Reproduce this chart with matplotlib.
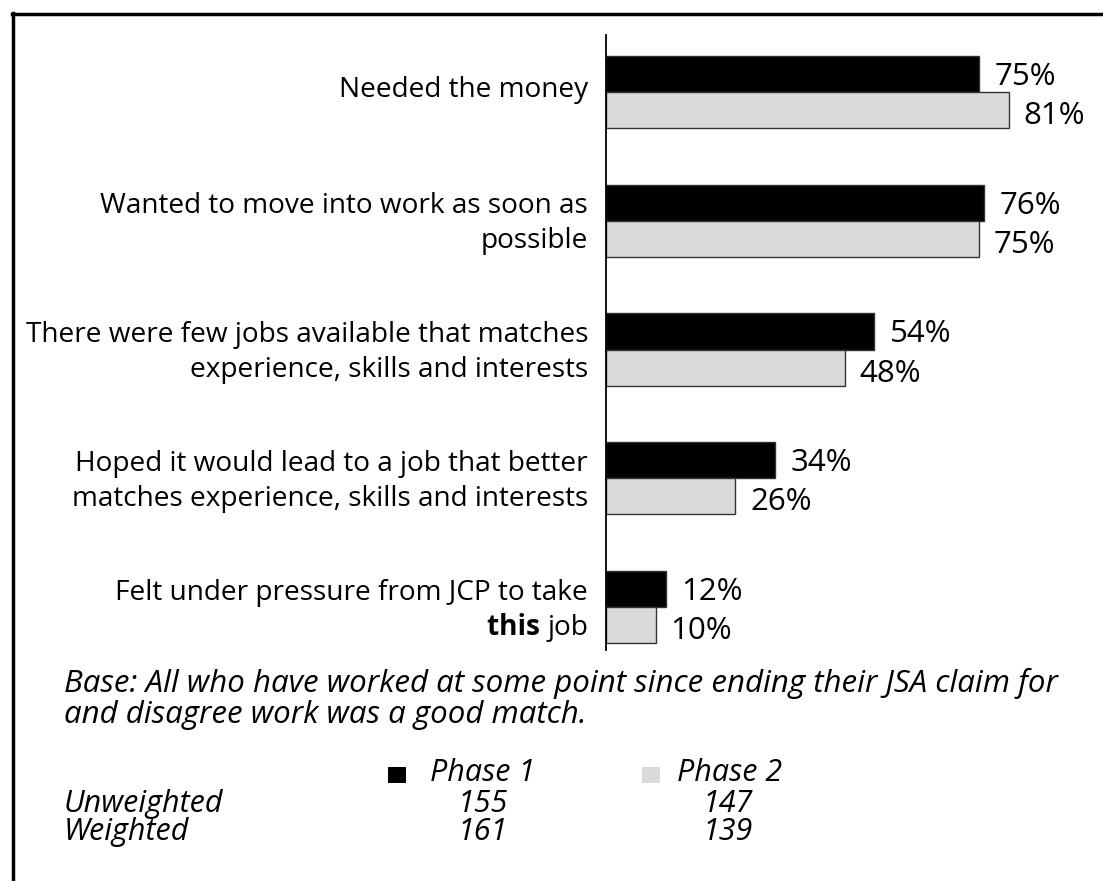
import numpy as np
import matplotlib.pyplot as plt
from matplotlib.patches import Rectangle
from matplotlib.lines import Line2D

plt.rcParams['font.family'] = ['Open Sans', 'DejaVu Sans']

# Data
labels = [
    ["Needed the money"],
    ["Wanted to move into work as soon as", "possible"],
    ["There were few jobs available that matches", "experience, skills and interests"],
    ["Hoped it would lead to a job that better", "matches experience, skills and interests"],
    ["Felt under pressure from JCP to take", "job"],
]
phase1 = [75, 76, 54, 34, 12]
phase2 = [81, 75, 48, 26, 10]
series_names = ["Phase 1", "Phase 2"]
unweighted = [155, 147]
weighted = [161, 139]

black = "#000000"
grey = "#d9dadb"
fs_lab = 20.2
fs_val = 22.5
fs_note = 22.5
fs_leg = 22
PX = 0.72  # points per pixel at dpi 100

W, H = 1103, 881
fig = plt.figure(figsize=(W / 100, H / 100), dpi=100)
ax = fig.add_axes([606 / W, 1 - 650 / H, 1 - 606 / W, (650 - 35) / H])

y = np.arange(len(phase1))
h = 0.28
ax.barh(y - h / 2, phase1, height=h, color=black, edgecolor="#333333", linewidth=1)
ax.barh(y + h / 2, phase2, height=h, color=grey, edgecolor="#333333", linewidth=1)

ax.set_xlim(0, 100)
ax.set_ylim(4.334, -0.443)
for s in ["top", "right", "bottom"]:
    ax.spines[s].set_visible(False)
ax.spines["left"].set_linewidth(1.3)
ax.set_xticks([])
ax.set_yticks([])

# value labels
for i, (a, b) in enumerate(zip(phase1, phase2)):
    ax.annotate(f"{a}%", xy=(a, i - h / 2), xytext=(16 * PX, -11 * PX), textcoords="offset points",
                ha="left", va="baseline", fontsize=fs_val)
    ax.annotate(f"{b}%", xy=(b, i + h / 2), xytext=(15 * PX, -14 * PX), textcoords="offset points",
                ha="left", va="baseline", fontsize=fs_val)

# category labels
for i, lines in enumerate(labels):
    offs = [5] if len(lines) == 1 else [-7.5, 27.5]
    for line, o in zip(lines, offs):
        t = ax.annotate(line, xy=(0, i), xycoords=("axes fraction", "data"),
                        xytext=(-18 * PX, -o * PX), textcoords="offset points",
                        ha="right", va="baseline", fontsize=fs_lab)
    last = t

# bold "this" before "job"
ax.annotate("this ", xy=(0, 0), xycoords=last, ha="right", va="bottom",
            fontsize=fs_lab, fontweight="bold")

# footnote
fig.text(64 / W, 1 - 692 / H,
         "Base: All who have worked at some point since ending their JSA claim for",
         ha="left", va="baseline", fontsize=fs_note, style="italic")
fig.text(64 / W, 1 - 723 / H, "and disagree work was a good match.",
         ha="left", va="baseline", fontsize=fs_note, style="italic")

# legend table
col_x = [483 / W, 728 / W]
sq_x = [388 / W, 642 / W]
txt_x = [430 / W, 677 / W]
for sx, tx, name, col in zip(sq_x, txt_x, series_names, [black, grey]):
    fig.patches.append(Rectangle((sx, 1 - 783 / H), 18 / W, 16 / H,
                                 transform=fig.transFigure, facecolor=col, edgecolor="none"))
    fig.text(tx, 1 - 781 / H, name, ha="left", va="baseline", fontsize=fs_leg, style="italic")
fig.text(64 / W, 1 - 812 / H, "Unweighted", ha="left", va="baseline", fontsize=fs_leg, style="italic")
fig.text(64 / W, 1 - 840 / H, "Weighted", ha="left", va="baseline", fontsize=fs_leg, style="italic")
for cx, u, w in zip(col_x, unweighted, weighted):
    fig.text(cx, 1 - 812 / H, str(u), ha="center", va="baseline", fontsize=fs_leg, style="italic")
    fig.text(cx, 1 - 840 / H, str(w), ha="center", va="baseline", fontsize=fs_leg, style="italic")

# outer frame (left and top edges)
fig.lines.append(Line2D([13 / W, 13 / W], [0, 1 - 13 / H], transform=fig.transFigure,
                        color="black", linewidth=2.5))
fig.lines.append(Line2D([12 / W, 1], [1 - 14 / H, 1 - 14 / H], transform=fig.transFigure,
                        color="black", linewidth=2.5))

fig.savefig("out.png", dpi=100)
